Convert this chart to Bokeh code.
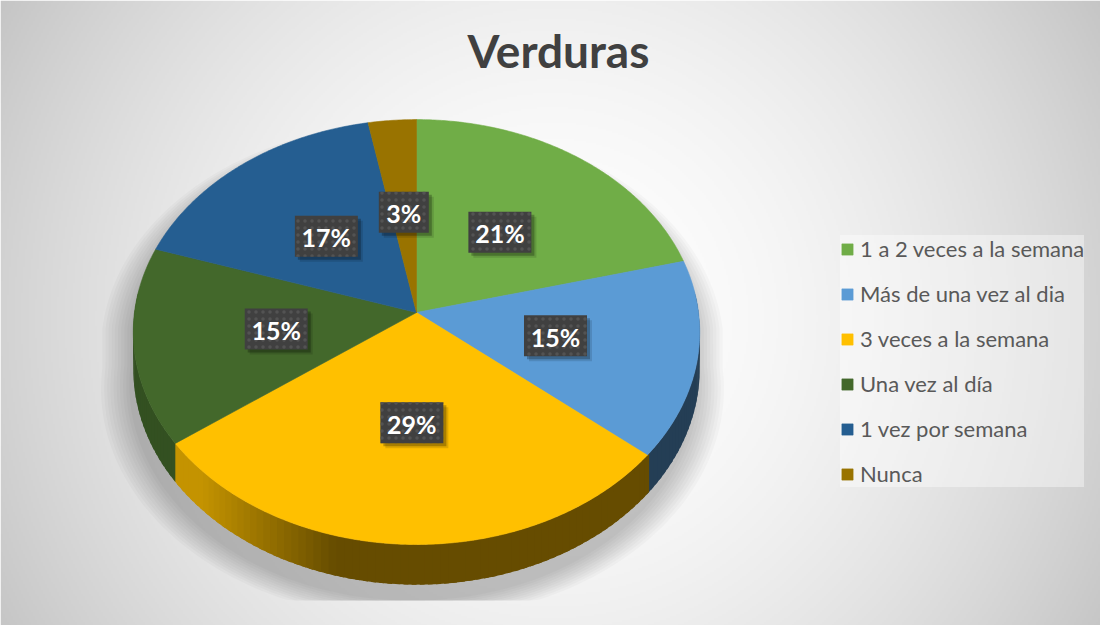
import numpy as np
from bokeh.plotting import figure
from bokeh.models import Range1d, Legend, LegendItem
from bokeh.core.properties import value
from bokeh.embed import file_html
from bokeh.resources import INLINE

# ---------------- data ----------------
title_text = "Verduras"
categories = ["1 a 2 veces a la semana", "Más de una vez al dia", "3 veces a la semana",
              "Una vez al día", "1 vez por semana", "Nunca"]
values = [21, 15, 29, 15, 17, 3]
labels = ["21%", "15%", "29%", "15%", "17%", "3%"]
colors = ["#70ad47", "#5b9bd5", "#ffc000", "#43682b", "#255e91", "#997300"]

# ---------------- geometry / style ----------------
W, H = 1100, 625
CX, CY = 416, 312          # pie apex (screen-like coords, y down)
RX = 282                   # horizontal radius
SIN_TILT = 0.747           # vertical squash
PERSP = 0.092              # perspective strength
DEPTH = 36.5               # thickness of pie
FONT = "Lato"


def proj(theta, r=1.0):
    c = np.cos(theta)
    s = np.sin(theta)
    den = 1 + PERSP * r * c
    x = CX + RX * r * s / den
    y = CY - RX * SIN_TILT * r * c / den
    return x, y, den


def hex2rgb(h):
    h = h.lstrip("#")
    return tuple(int(h[i:i + 2], 16) for i in (0, 2, 4))


def shade(hexcol, f):
    r, g, b = hex2rgb(hexcol)
    return "#%02x%02x%02x" % (int(r * f), int(g * f), int(b * f))


p = figure(width=W, height=H, x_range=Range1d(0, W), y_range=Range1d(H, 0),
           output_backend="svg", toolbar_location=None, min_border=0,
           x_axis_location=None, y_axis_location=None)
p.grid.visible = False
p.outline_line_color = None
p.background_fill_color = "white"
p.border_fill_color = "white"

# ---------------- background radial gradient ----------------
S = 2
h2, w2 = H // S + 1, W // S
yy, xx = np.mgrid[0:h2, 0:w2]
xx = (xx + 0.5) * S
yy = (yy + 0.5) * S
d = np.hypot(xx - 552, yy - 318) / 636.0
g = (255 - 58 * np.clip(d, 0, 1.3) ** 1.8).clip(0, 255).astype(np.uint8)
img = np.empty((h2, w2), dtype=np.uint32)
view = img.view(dtype=np.uint8).reshape((h2, w2, 4))
view[..., 0] = g
view[..., 1] = g
view[..., 2] = g
view[..., 3] = 255
p.image_rgba(image=[img], x=0, y=0, dw=w2 * S, dh=h2 * S)

# ---------------- slice angles ----------------
total = float(sum(values))
fr = np.array(values) / total
ends = np.cumsum(fr) * 2 * np.pi
starts = ends - fr * 2 * np.pi

# ---------------- shadow ----------------
tb = np.linspace(-np.pi / 2, np.pi / 2, 120)
tf = np.linspace(np.pi / 2, 3 * np.pi / 2, 120)
bx, by, _ = proj(tb)
fx, fy, fden = proj(tf)
fy = fy + DEPTH / fden
ox = np.concatenate([bx, fx])
oy = np.concatenate([by, fy])
sh_xs, sh_ys = [], []
for t in np.linspace(1, 0, 10):
    sx = 1.0 + 0.10 * t
    sy = 1.0 + 0.07 * t
    xs_ = CX - 4 + (ox - CX) * sx
    ys_ = CY + 16 + (oy - CY) * sy
    ys_ = np.minimum(ys_, 600)
    sh_xs.append(list(xs_))
    sh_ys.append(list(ys_))
p.patches(sh_xs, sh_ys, fill_color="black", fill_alpha=0.022, line_color=None)

# ---------------- sides ----------------
side_xs, side_ys, side_c = [], [], []
step = np.radians(1.5)
lo, hi = np.radians(84), np.radians(276)
th = lo
while th < hi:
    t0, t1 = th, min(th + step, hi)
    mid = 0.5 * (t0 + t1)
    idx = int(np.searchsorted(ends, mid % (2 * np.pi)))
    idx = min(idx, len(values) - 1)
    f = 0.40 + 0.37 * np.clip((-np.sin(mid) - 0.26) / 0.45, 0, 1)
    te = min(t1 + step * 0.6, hi)
    x0, y0, d0 = proj(t0)
    x1, y1, d1 = proj(te)
    side_xs.append([x0, x1, x1, x0])
    side_ys.append([y0, y1, y1 + DEPTH / d1, y0 + DEPTH / d0])
    side_c.append(shade(colors[idx], f))
    th = t1
p.patches(side_xs, side_ys, fill_color=side_c, line_color=None)

# ---------------- top slices ----------------
top_xs, top_ys = [], []
for a0, a1 in zip(starts, ends):
    n = max(int(np.degrees(a1 - a0)), 3) * 2
    tt = np.linspace(a0, a1, n)
    x, y, _ = proj(tt)
    top_xs.append([CX] + list(x))
    top_ys.append([CY] + list(y))
tops = p.patches(top_xs, top_ys, fill_color=colors, line_color=colors, line_width=0.6)

# ---------------- data labels ----------------
mids = 0.5 * (starts + ends)
lx, ly, _ = proj(mids, 0.5)
lw = [24 + 13 * len(s) for s in labels]
lh = 41
p.rect(lx + 5, ly + 5, width=lw, height=lh, fill_color="black", fill_alpha=0.12, line_color=None)
p.rect(lx + 3, ly + 3, width=lw, height=lh, fill_color="black", fill_alpha=0.25, line_color=None)
p.rect(lx, ly, width=lw, height=lh, fill_color="#404040", line_color=None,
       hatch_pattern="dot", hatch_color="#535353", hatch_scale=7, hatch_weight=1.0)
p.text(lx, ly + 1, text=labels, text_align="center", text_baseline="middle",
       text_font=value(FONT), text_font_style="bold", text_font_size="25px",
       text_color="white")

# ---------------- title ----------------
p.text(x=[558], y=[50], text=[title_text], text_align="center", text_baseline="alphabetic",
       text_font=value(FONT), text_font_style="bold", text_font_size="46px",
       text_color="#404040")

# ---------------- legend ----------------
items = [LegendItem(label=c, renderers=[tops], index=i) for i, c in enumerate(categories)]
legend = Legend(items=items, location=(840, 138), orientation="vertical",
                glyph_width=14, glyph_height=14, label_standoff=6,
                label_text_font=FONT, label_text_font_size="22px",
                label_text_color="#595959", label_height=27,
                spacing=18, padding=12, margin=0,
                border_line_color=None, background_fill_color="white",
                background_fill_alpha=0.4)
p.add_layout(legend)

open("out.html", "w").write(file_html(p, INLINE))
